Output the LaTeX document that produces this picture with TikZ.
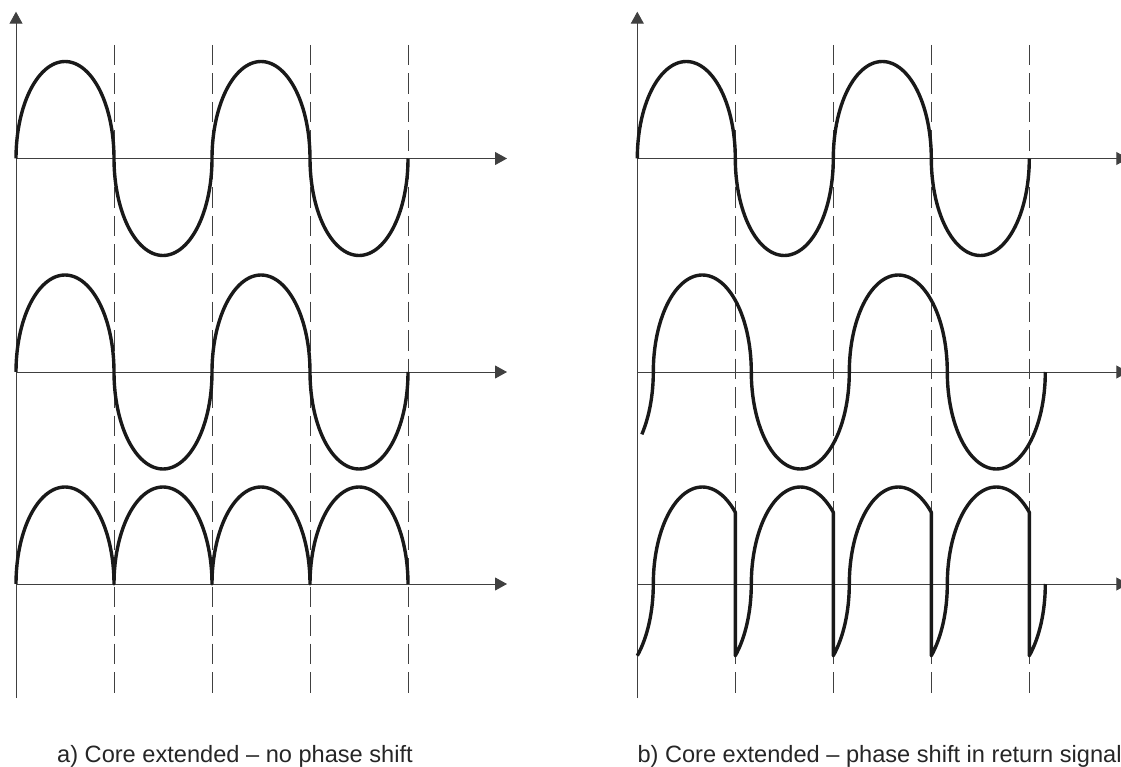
\documentclass[tikz,border=0pt]{standalone}
\usepackage{fontspec}
\setmainfont{Liberation Sans}
\usetikzlibrary{arrows.meta}
\begin{document}
\begin{tikzpicture}[x=1pt,y=-1pt,
  axis/.style={line width=0.9pt, draw=black!75, -{Triangle[length=12pt,width=13pt]}},
  guide/.style={line width=0.9pt, draw=black!75, dash pattern=on 20.5pt off 8pt},
  wave/.style={line width=3.4pt, draw=black!90, line join=round},
  caption/.style={font=\fontsize{23.6}{26}\selectfont, text=black!85, anchor=base west, inner sep=0pt},
  declare function={ex(\t)=(\t/90)*49+49*(1-cos(Mod(\t,180))-Mod(\t,180)/90);}
]
\useasboundingbox (0,0) rectangle (1121,767);

% guides, axes
\foreach \ox/\p in {16/L, 637.3/R}{
  \foreach \k in {1,2,3,4}{
    \coordinate (\p g\k t) at ({\ox+98*\k},45);
    \coordinate (\p g\k b) at ({\ox+98*\k},695);
    \draw[guide] (\p g\k t) -- (\p g\k b);
  }
  \coordinate (\p v0) at (\ox,698);
  \coordinate (\p v1) at (\ox,11.7);
  \draw[axis] (\p v0) -- (\p v1);
  \foreach \ay/\i in {158.5/1, 372/2, 584/3}{
    \coordinate (\p h\i s) at (\ox,\ay);
    \coordinate (\p h\i e) at ({\ox+491},\ay);
    \draw[axis] (\p h\i s) -- (\p h\i e);
  }
}

% left panel waves
\draw[wave] plot[variable=\t, domain=0:720, samples=241] ({16+ex(\t)}, {158.5-97*sin(\t)});
\draw[wave] plot[variable=\t, domain=0:720, samples=241] ({16+ex(\t)}, {372-97*sin(\t)});
\draw[wave] plot[variable=\t, domain=0:720, samples=241] ({16+ex(\t)}, {584-97*abs(sin(\t))});

% right panel waves
\draw[wave] plot[variable=\t, domain=0:720, samples=241] ({637.3+ex(\t)}, {158.5-97*sin(\t)});
\draw[wave] plot[variable=\t, domain=-40:720, samples=254] ({653.3+ex(\t)}, {372-97*sin(\t)});
\draw[wave]
  plot[variable=\t, domain=-47.66:132.34, samples=61] ({653.3+ex(\t)}, {584-97*sin(\t)})
  -- plot[variable=\t, domain=-47.66:132.34, samples=61] ({751.3+ex(\t)}, {584-97*sin(\t)})
  -- plot[variable=\t, domain=-47.66:132.34, samples=61] ({849.3+ex(\t)}, {584-97*sin(\t)})
  -- plot[variable=\t, domain=-47.66:132.34, samples=61] ({947.3+ex(\t)}, {584-97*sin(\t)})
  -- plot[variable=\t, domain=-47.66:0, samples=17] ({1045.3+ex(\t)}, {584-97*sin(\t)});

% captions
\node[caption] (capA) at (57,762.7) {a) Core extended -- no phase shift};
\node[caption] (capB) at (637.3,762.7) {b) Core extended -- phase shift in return signal};
\end{tikzpicture}
\end{document}
